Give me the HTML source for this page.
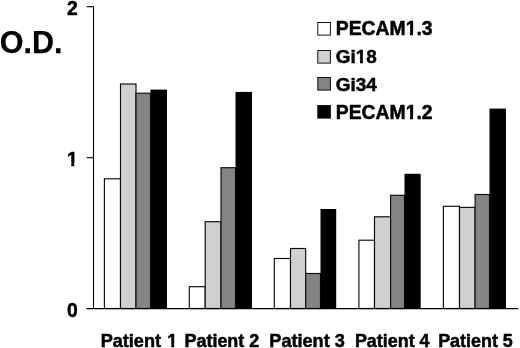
<!DOCTYPE html>
<html><head><meta charset="utf-8"><title>O.D. chart</title>
<style>
html,body{margin:0;padding:0;background:#fff;}
body{width:520px;height:348px;overflow:hidden;}
svg{display:block;will-change:transform;}
text{font-family:"Liberation Sans",Arial,sans-serif;font-weight:bold;fill:#000;stroke:#000;stroke-width:0.5px;stroke-linejoin:round;}
</style></head><body>
<svg width="520" height="348" viewBox="0 0 520 348">
<rect width="520" height="348" fill="#fff"/>
<rect x="104.40" y="178.80" width="16.10" height="129.70" fill="#ffffff" stroke="#0c0c0c" stroke-width="1.15"/>
<rect x="120.50" y="84.00" width="15.50" height="224.50" fill="#d0d0d0" stroke="#0c0c0c" stroke-width="1.15"/>
<rect x="136.00" y="93.20" width="14.50" height="215.30" fill="#848484" stroke="#0c0c0c" stroke-width="1.15"/>
<rect x="150.50" y="89.60" width="16.50" height="218.90" fill="#000"/>
<rect x="189.30" y="286.70" width="15.90" height="21.80" fill="#ffffff" stroke="#0c0c0c" stroke-width="1.15"/>
<rect x="205.20" y="221.70" width="15.80" height="86.80" fill="#d0d0d0" stroke="#0c0c0c" stroke-width="1.15"/>
<rect x="221.00" y="167.70" width="14.50" height="140.80" fill="#848484" stroke="#0c0c0c" stroke-width="1.15"/>
<rect x="235.50" y="91.90" width="16.50" height="216.60" fill="#000"/>
<rect x="274.30" y="258.50" width="16.20" height="50.00" fill="#ffffff" stroke="#0c0c0c" stroke-width="1.15"/>
<rect x="290.50" y="248.50" width="15.20" height="60.00" fill="#d0d0d0" stroke="#0c0c0c" stroke-width="1.15"/>
<rect x="305.70" y="273.50" width="14.80" height="35.00" fill="#848484" stroke="#0c0c0c" stroke-width="1.15"/>
<rect x="320.50" y="209.00" width="15.70" height="99.50" fill="#000"/>
<rect x="358.90" y="240.20" width="15.60" height="68.30" fill="#ffffff" stroke="#0c0c0c" stroke-width="1.15"/>
<rect x="374.50" y="216.80" width="16.10" height="91.70" fill="#d0d0d0" stroke="#0c0c0c" stroke-width="1.15"/>
<rect x="390.60" y="195.30" width="13.90" height="113.20" fill="#848484" stroke="#0c0c0c" stroke-width="1.15"/>
<rect x="404.50" y="173.80" width="16.20" height="134.70" fill="#000"/>
<rect x="443.40" y="206.30" width="16.10" height="102.20" fill="#ffffff" stroke="#0c0c0c" stroke-width="1.15"/>
<rect x="459.50" y="207.40" width="15.60" height="101.10" fill="#d0d0d0" stroke="#0c0c0c" stroke-width="1.15"/>
<rect x="475.10" y="194.50" width="14.40" height="114.00" fill="#848484" stroke="#0c0c0c" stroke-width="1.15"/>
<rect x="489.50" y="108.60" width="16.50" height="199.90" fill="#000"/>
<g stroke="#000" stroke-width="1.1" fill="none">
<line x1="93.5" y1="6.5" x2="93.5" y2="309"/>
<line x1="86.4" y1="308.6" x2="518.3" y2="308.6" stroke-width="1.25"/>
<line x1="86.6" y1="6.7" x2="93.5" y2="6.7"/>
<line x1="86.6" y1="157.7" x2="93.5" y2="157.7"/>
</g>
<text transform="translate(66.9,14.8) scale(0.937,1)" x="0" y="0" font-size="20.6">2</text>
<text transform="translate(66.9,165.8) scale(0.937,1)" x="0" y="0" font-size="20.6">1</text>
<text transform="translate(66.9,316.8) scale(0.937,1)" x="0" y="0" font-size="20.6">0</text>
<text x="-0.2" y="52.7" font-size="30.5" style="stroke-width:0.25px">O.D.</text>
<rect x="317.8" y="22.5" width="12.6" height="12.6" fill="#ffffff" stroke="#111" stroke-width="1"/>
<text x="335.8" y="35.3" font-size="19.35">PECAM1.3</text>
<rect x="317.8" y="50.5" width="12.6" height="12.6" fill="#d0d0d0" stroke="#111" stroke-width="1"/>
<text x="335.8" y="63.0" font-size="18.9">Gi18</text>
<rect x="317.8" y="77.5" width="12.6" height="12.6" fill="#848484" stroke="#111" stroke-width="1"/>
<text x="335.8" y="90.7" font-size="18.9">Gi34</text>
<rect x="317.8" y="105.5" width="12.6" height="12.6" fill="#000000" stroke="#111" stroke-width="1"/>
<text x="335.8" y="118.5" font-size="19.35">PECAM1.2</text>
<text x="100.70" y="346.8" font-size="18.1">Patient <tspan dx="1.2">1</tspan></text>
<text x="184.50" y="346.8" font-size="17.95">Patient 2</text>
<text x="269.30" y="346.8" font-size="18.12">Patient 3</text>
<text x="354.95" y="346.8" font-size="17.9">Patient 4</text>
<text x="438.20" y="346.8" font-size="17.9">Patient 5</text>
<g fill="#fff">
<rect transform="matrix(0.937 0 0 1 66.9 165.8)" x="-0.20" y="-3.20" width="4.83" height="4.90"/>
<rect transform="matrix(0.937 0 0 1 66.9 165.8)" x="7.81" y="-3.20" width="4.37" height="4.90"/>
<rect transform="matrix(1 0 0 1 0 0)" x="405.36" y="32.23" width="4.62" height="4.77"/>
<rect transform="matrix(1 0 0 1 0 0)" x="412.99" y="32.23" width="4.17" height="4.77"/>
<rect transform="matrix(1 0 0 1 0 0)" x="355.43" y="59.97" width="4.54" height="4.73"/>
<rect transform="matrix(1 0 0 1 0 0)" x="362.92" y="59.97" width="4.10" height="4.73"/>
<rect transform="matrix(1 0 0 1 0 0)" x="405.36" y="115.43" width="4.62" height="4.77"/>
<rect transform="matrix(1 0 0 1 0 0)" x="412.99" y="115.43" width="4.17" height="4.77"/>
<rect transform="matrix(1 0 0 1 0 0)" x="166.90" y="343.85" width="4.40" height="4.65"/>
<rect transform="matrix(1 0 0 1 0 0)" x="174.15" y="343.85" width="3.97" height="4.65"/>
</g>
</svg>
</body></html>
